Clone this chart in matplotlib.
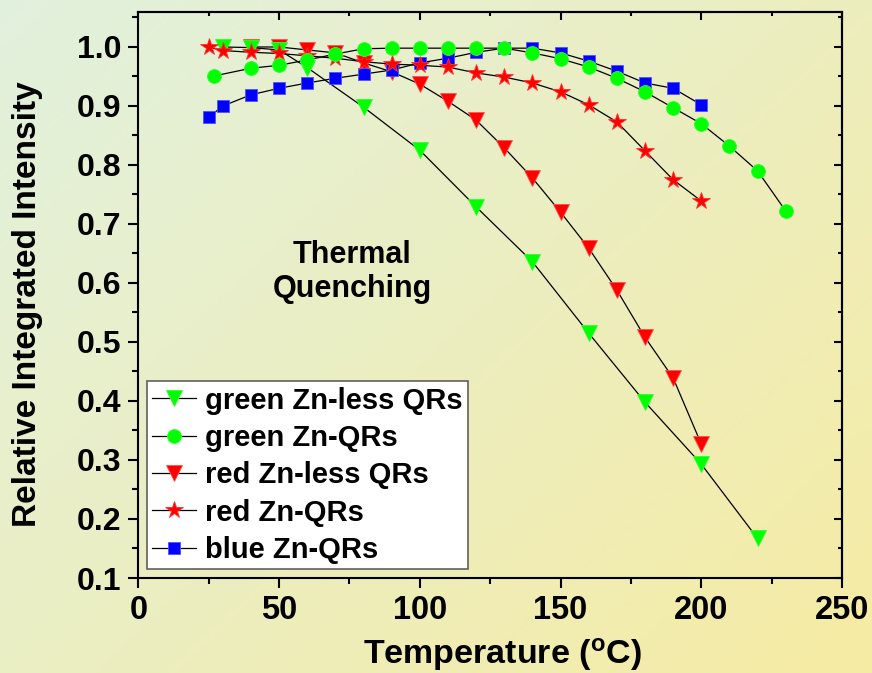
import numpy as np
import matplotlib
matplotlib.use("Agg")
import matplotlib.pyplot as plt
from matplotlib import font_manager as fm
from matplotlib.ticker import MultipleLocator

# ---------------- data ----------------
green_less_T = [30, 40, 50, 60, 80, 100, 120, 140, 160, 180, 200, 220]
green_less_v = [1.000, 0.999, 0.995, 0.965, 0.898, 0.825, 0.729, 0.636, 0.515, 0.398, 0.293, 0.167]

green_zn_T = [27, 40, 50, 60, 70, 80, 90, 100, 110, 120, 130, 140, 150, 160, 170, 180, 190, 200, 210, 220, 230]
green_zn_v = [0.951, 0.964, 0.969, 0.978, 0.988, 0.997, 0.998, 0.998, 0.998, 0.998, 0.998, 0.990, 0.980,
              0.966, 0.947, 0.924, 0.897, 0.870, 0.832, 0.790, 0.722]

red_less_T = [40, 50, 60, 70, 80, 90, 100, 110, 120, 130, 140, 150, 160, 170, 180, 190, 200]
red_less_v = [1.000, 1.000, 0.995, 0.990, 0.973, 0.958, 0.937, 0.908, 0.876, 0.829, 0.778, 0.720,
              0.659, 0.588, 0.508, 0.439, 0.327]

red_zn_T = [25, 30, 40, 50, 60, 70, 80, 90, 100, 110, 120, 130, 140, 150, 160, 170, 180, 190, 200]
red_zn_v = [1.000, 0.994, 0.991, 0.989, 0.985, 0.981, 0.975, 0.971, 0.969, 0.966, 0.956, 0.949, 0.939,
            0.924, 0.902, 0.873, 0.824, 0.775, 0.739]

blue_zn_T = [25, 30, 40, 50, 60, 70, 80, 90, 100, 110, 120, 130, 140, 150, 160, 170, 180, 190, 200]
blue_zn_v = [0.881, 0.900, 0.919, 0.930, 0.939, 0.947, 0.954, 0.961, 0.973, 0.981, 0.991, 0.998, 0.998,
             0.990, 0.976, 0.959, 0.939, 0.930, 0.902]

labels = ["green Zn-less QRs", "green Zn-QRs", "red Zn-less QRs", "red Zn-QRs", "blue Zn-QRs"]
x_ticks = [0, 50, 100, 150, 200, 250]
y_ticks = [0.1, 0.2, 0.3, 0.4, 0.5, 0.6, 0.7, 0.8, 0.9, 1.0]

# ---------------- fonts ----------------
names = {f.name for f in fm.fontManager.ttflist}
REG = "Liberation Sans" if "Liberation Sans" in names else "DejaVu Sans"
plt.rcParams['font.family'] = [REG, 'DejaVu Sans']
plt.rcParams['font.weight'] = 'bold'
plt.rcParams['mathtext.fontset'] = 'custom'
plt.rcParams['mathtext.rm'] = REG + ':bold'
plt.rcParams['mathtext.bf'] = REG + ':bold'
plt.rcParams['mathtext.default'] = 'bf'

W, H = 872, 673
fig = plt.figure(figsize=(W / 100, H / 100), dpi=100)

# background gradient (top-left mint -> bottom-right yellow)
bg = fig.add_axes([0, 0, 1, 1], zorder=-10)
bg.set_axis_off()
yy, xx = np.mgrid[0:1:200j, 0:1:200j]
t = np.clip((xx * 0.55 + yy * 0.45), 0, 1)
c0 = np.array([0.885, 0.945, 0.870])
c1 = np.array([0.965, 0.922, 0.640])
img = c0[None, None, :] * (1 - t[..., None]) + c1[None, None, :] * t[..., None]
bg.imshow(img, aspect='auto', extent=[0, 1, 0, 1], origin='upper')
bg.set_xlim(0, 1); bg.set_ylim(0, 1)

ax = fig.add_axes([138.4 / W, 1 - 578 / H, (842 - 138.4) / W, (578 - 12) / H])
ax.set_facecolor('none')

line_kw = dict(color='black', lw=0.9)
h_gl, = ax.plot(green_less_T, green_less_v, marker='v', ms=12, mfc='#00ff00', mec='#30ff30', mew=0.6,
                label=labels[0], zorder=3, **line_kw)
h_gz, = ax.plot(green_zn_T, green_zn_v, marker='o', ms=10, mfc='#00ff00', mec='#30ff30', mew=0.6,
                label=labels[1], zorder=6, **line_kw)
h_rl, = ax.plot(red_less_T, red_less_v, marker='v', ms=12, mfc='#ff0000', mec='#ff5050', mew=0.6,
                label=labels[2], zorder=2, **line_kw)
h_rz, = ax.plot(red_zn_T, red_zn_v, marker='*', ms=13, mfc='#ff0000', mec='#ff3030', mew=0.6,
                label=labels[3], zorder=5, **line_kw)
h_bz, = ax.plot(blue_zn_T, blue_zn_v, marker='s', ms=8.5, mfc='#0000ff', mec='#5050ff', mew=0.6,
                label=labels[4], zorder=4, **line_kw)

ax.set_xlim(0, 250)
ax.set_ylim(0.1, 1.0593)
ax.set_xticks(x_ticks)
ax.set_yticks(y_ticks)
ax.xaxis.set_minor_locator(MultipleLocator(25))
ax.yaxis.set_minor_locator(MultipleLocator(0.05))
ax.set_xticklabels([str(v) for v in x_ticks], fontsize=23.5, fontweight='bold')
ax.set_yticklabels([f"{v:.1f}" for v in y_ticks], fontsize=23, fontweight='bold')

for s in ax.spines.values():
    s.set_linewidth(1.5)
ax.tick_params(axis='both', which='major', direction='out', length=7.5, width=1.5, pad=5)
ax.tick_params(axis='both', which='minor', direction='out', length=4, width=1.5)
ax.tick_params(top=False, right=False, which='both')

secx = ax.secondary_xaxis('top')
secx.set_xticks(x_ticks); secx.set_xticklabels([])
secx.xaxis.set_minor_locator(MultipleLocator(25))
secx.tick_params(which='major', direction='in', length=6, width=1.5)
secx.tick_params(which='minor', direction='in', length=3, width=1.5)
secx.spines['top'].set_linewidth(1.5)
secy = ax.secondary_yaxis('right')
secy.set_yticks(y_ticks); secy.set_yticklabels([])
secy.yaxis.set_minor_locator(MultipleLocator(0.05))
secy.tick_params(which='major', direction='in', length=6, width=1.5)
secy.tick_params(which='minor', direction='in', length=3, width=1.5)
secy.spines['right'].set_linewidth(1.5)

ax.set_xlabel(r'Temperature ($^{\mathbf{o}}$C)', fontsize=24.5, fontweight='bold')
ax.xaxis.set_label_coords(0.517, -0.102)
ax.xaxis.label.set_verticalalignment('top')
ax.set_ylabel('Relative Integrated Intensity', fontsize=24, fontweight='bold')
ax.yaxis.set_label_coords(-0.135, 0.484)

ax.text(76, 0.619, 'Thermal\nQuenching', ha='center', va='center', fontsize=22, fontweight='bold',
        linespacing=1.15)

leg = ax.legend(handles=[h_gl, h_gz, h_rl, h_rz, h_bz], loc='lower left', bbox_to_anchor=(0.0, 0.0),
                borderaxespad=0.3, prop={'size': 21, 'weight': 'bold'}, frameon=True, fancybox=False,
                handlelength=1.5, handletextpad=0.32, labelspacing=0.32, borderpad=0.18)
leg.get_frame().set_edgecolor('#606060')
leg.get_frame().set_linewidth(1.2)
leg.get_frame().set_facecolor('white')
leg.get_frame().set_alpha(1)
leg.set_zorder(10)

fig.savefig('out.png', dpi=100)
